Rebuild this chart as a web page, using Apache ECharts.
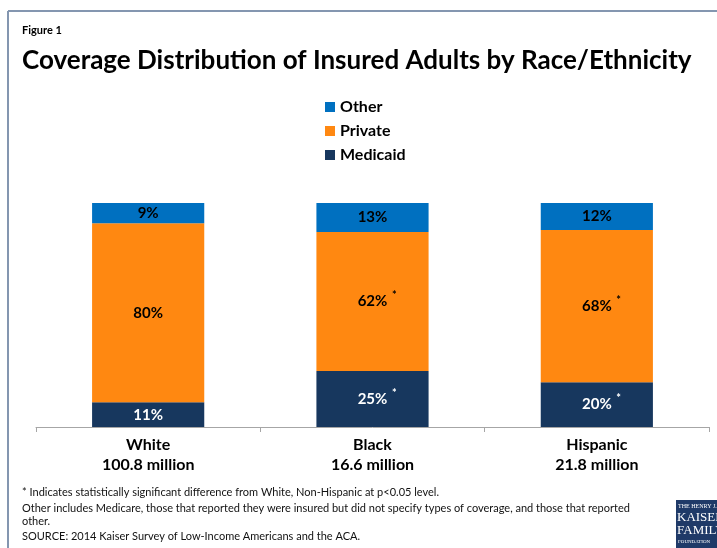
<!DOCTYPE html>
<html>
<head>
<meta charset="utf-8">
<script src="https://cdn.jsdelivr.net/npm/echarts@6/dist/echarts.min.js"></script>
<style>
  html, body { margin: 0; padding: 0; background: #fff; }
  #chart { width: 717px; height: 548px; }
</style>
</head>
<body>
<div id="chart"></div>
<script>
// Groups along the x axis and their insured-adult totals
var groups = ['White', 'Black', 'Hispanic'];
var groupTotals = ['100.8 million', '16.6 million', '21.8 million'];

// Share of coverage type (percent), stacked bottom to top
var medicaid = [11, 25, 20];
var privateCov = [80, 62, 68];
var other = [9, 13, 12];

// Significance flags (difference from White, Non-Hispanic)
var medicaidSig = [false, true, true];
var privateSig = [false, true, true];

var legendOrder = ['Other', 'Private', 'Medicaid'];

var FONT = 'Lato, "Noto Sans", sans-serif';
var COLORS = { Medicaid: '#17375E', Private: '#FF8811', Other: '#0070C0' };

function labelFor(sigFlags, textColor) {
  return {
    show: true,
    position: 'inside',
    formatter: function (p) {
      var txt = p.value + '%';
      return sigFlags && sigFlags[p.dataIndex]
        ? '{g|}{v|' + txt + '}{s|*}'
        : '{v|' + txt + '}';
    },
    rich: {
      v: { fontFamily: FONT, fontWeight: 'bold', fontSize: 15, color: textColor },
      g: { width: 14 },
      s: { width: 14, align: 'center', fontFamily: FONT, fontWeight: 'bold',
           fontSize: 11, color: textColor, padding: [0, 0, 12, 0] }
    }
  };
}

var chart = echarts.init(document.getElementById('chart'), null, { renderer: 'canvas' });

var footY = [492, 508, 521, 536];
var footText = [
  '* Indicates statistically significant difference from White, Non-Hispanic at p<0.05 level.',
  'Other includes Medicare, those that reported they were insured but did not specify types of coverage, and those that reported',
  'other.',
  'SOURCE: 2014 Kaiser Survey of Low-Income Americans and the ACA.'
];

var graphics = [
  // frame
  { type: 'line', shape: { x1: 8, y1: 11, x2: 717, y2: 11 }, style: { stroke: '#8496B0', lineWidth: 2 } },
  { type: 'line', shape: { x1: 8, y1: 11, x2: 8, y2: 548 }, style: { stroke: '#8496B0', lineWidth: 2 } },
  // headings
  { type: 'text', left: 22, top: 25, style: { text: 'Figure 1', font: 'bold 11px ' + FONT, fill: '#000' } },
  { type: 'text', left: 22, top: 48, style: { text: 'Coverage Distribution of Insured Adults by Race/Ethnicity', font: 'bold 26px ' + FONT, fill: '#000' } },
  // logo
  { type: 'rect', shape: { x: 676, y: 500, width: 50, height: 48 }, style: { fill: '#1F3A68' } },
  { type: 'text', left: 678, top: 503, style: { text: 'THE HENRY J.', font: '6px "Liberation Serif", serif', fill: '#fff' } },
  { type: 'text', left: 677, top: 511, style: { text: 'KAISER', font: '13px "Liberation Serif", serif', fill: '#fff' } },
  { type: 'text', left: 677, top: 524, style: { text: 'FAMILY', font: '13px "Liberation Serif", serif', fill: '#fff' } },
  { type: 'text', left: 678, top: 539, style: { text: 'FOUNDATION', font: '5px "Liberation Serif", serif', fill: '#fff' } }
];
footText.forEach(function (t, i) {
  graphics.push({ type: 'text', left: 22, top: footY[i] - 5,
    style: { text: t, font: '11px ' + FONT, fill: '#111' } });
});

chart.setOption({
  animation: false,
  backgroundColor: '#fff',
  color: [COLORS.Medicaid, COLORS.Private, COLORS.Other],
  legend: {
    data: legendOrder,
    orient: 'vertical',
    left: 320,
    top: 93,
    itemWidth: 10,
    itemHeight: 10,
    itemGap: 6,
    icon: 'rect',
    textStyle: { fontFamily: FONT, fontWeight: 'bold', fontSize: 16, color: '#000', lineHeight: 18 }
  },
  grid: { left: 36, right: 8, top: 203, bottom: 121 },
  xAxis: {
    type: 'category',
    data: groups,
    axisLine: { lineStyle: { color: '#A6A6A6', width: 1 } },
    axisTick: { show: true, length: 5, lineStyle: { color: '#A6A6A6' } },
    axisLabel: {
      margin: 8,
      formatter: function (v, i) { return v + '\n' + groupTotals[i]; },
      fontFamily: FONT, fontWeight: 'bold', fontSize: 16, color: '#000', lineHeight: 20
    }
  },
  yAxis: { type: 'value', min: 0, max: 100, show: false },
  series: [
    { name: 'Medicaid', type: 'bar', stack: 'cov', barWidth: '50%', data: medicaid,
      itemStyle: { color: COLORS.Medicaid }, label: labelFor(medicaidSig, '#fff') },
    { name: 'Private', type: 'bar', stack: 'cov', data: privateCov,
      itemStyle: { color: COLORS.Private }, label: labelFor(privateSig, '#000') },
    { name: 'Other', type: 'bar', stack: 'cov', data: other,
      itemStyle: { color: COLORS.Other }, label: labelFor(null, '#000') }
  ],
  graphic: graphics
});
</script>
</body>
</html>
